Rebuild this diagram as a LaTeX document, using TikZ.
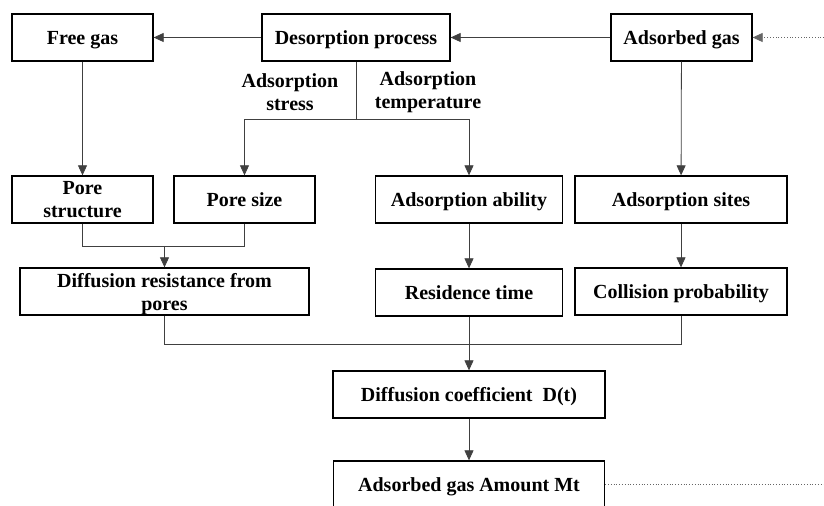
\documentclass[tikz,border=0pt]{standalone}
\usepackage{fontspec}
\setmainfont{Liberation Serif}
\usetikzlibrary{arrows.meta}

\begin{document}
\begin{tikzpicture}[x=0.5pt, y=-0.5pt,
    font=\fontsize{10}{11.5}\selectfont\bfseries,
    box/.style={draw, line width=0.65pt, rectangle, inner sep=0pt, align=center, text depth=0pt, minimum height=23.5pt},
    link/.style={line width=0.4pt, draw=black!75},
    arr/.style={link, -{Triangle[width=4.5pt, length=5pt]}},
    loop/.style={link, densely dotted, draw=black!60}]
    \useasboundingbox (0, 0) rectangle (824, 506);
    \clip (0, 0) rectangle (824, 506);

    \node[box, minimum width=70.5pt] (free) at (82.5, 37.5) {Free gas};
    \node[box, minimum width=94pt] (desorp) at (356, 37.5) {Desorption process};
    \node[box, minimum width=70.5pt] (adsorbed) at (681.5, 37.5) {Adsorbed gas};
    \node[align=center] (stress) at (290, 92) {Adsorption\\stress};
    \node[align=center] (temp) at (428, 92) {Adsorption\\temperature};

    \node[box, minimum width=70.5pt] (porestruct) at (82.5, 199.5) {Pore\\structure};
    \node[box, minimum width=70.5pt] (poresize) at (244.5, 199.5) {Pore size};
    \node[box, minimum width=93.5pt] (ability) at (469, 199.5) {Adsorption ability};
    \node[box, minimum width=106pt] (sites) at (681, 199.5) {Adsorption sites};

    \node[box, minimum width=144.5pt] (resist) at (164.5, 291.5) {Diffusion resistance from\\pores};
    \node[box, minimum width=93.5pt] (residence) at (469, 292.5) {Residence time};
    \node[box, minimum width=106pt] (collision) at (681, 291.5) {Collision probability};

    \node[box, minimum width=136pt] (coeff) at (469, 394.5) {Diffusion coefficient \ D(t)};
    \node[box, minimum width=135.5pt] (amount) at (469, 484.5) {Adsorbed gas Amount Mt};

    \coordinate (split) at (356, 119);
    \coordinate (poremerge) at (164.5, 246);
    \coordinate (join) at (469, 344);
    \coordinate (backtop) at (824, 37.5);
    \coordinate (backbot) at (824, 484.5);

    \draw[arr] (adsorbed) -- (desorp);
    \draw[arr] (desorp) -- (free);
    \draw[arr, loop] (backtop) -- (adsorbed);
    \draw[loop] (amount) -- (backbot);

    \draw[link] (desorp.south) -- (split);
    \draw[arr] (split) -| (poresize);
    \draw[arr] (split) -| (ability);
    \draw[arr] (free) -- (porestruct);
    \draw[arr] (adsorbed) -- (sites);

    \draw[link] (porestruct) |- (poremerge);
    \draw[link] (poresize) |- (poremerge);
    \draw[arr] (poremerge) -- (resist);
    \draw[arr] (ability) -- (residence);
    \draw[arr] (sites) -- (collision);

    \draw[link] (resist) |- (join);
    \draw[link] (collision) |- (join);
    \draw[arr] (residence) -- (coeff);
    \draw[arr] (coeff) -- (amount);
\end{tikzpicture}
\end{document}
